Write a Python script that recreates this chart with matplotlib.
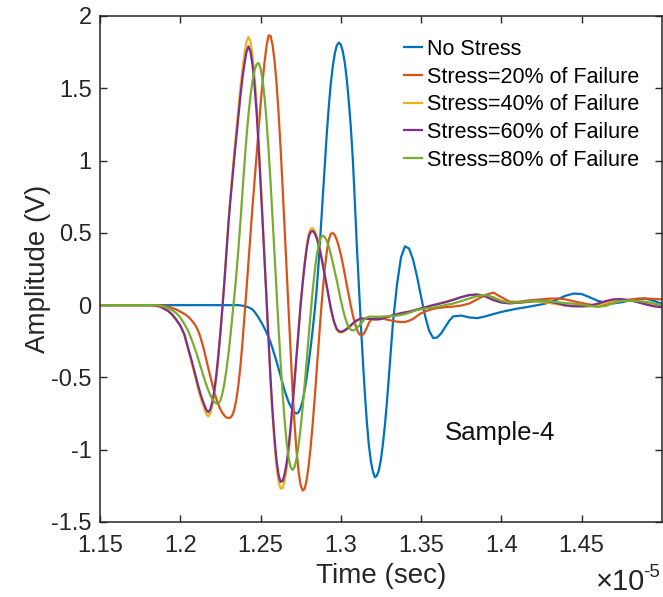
import matplotlib
matplotlib.use("Agg")
import matplotlib.pyplot as plt

plt.rcParams['font.family'] = ['Liberation Sans', 'DejaVu Sans']

# Time axis in units of 1e-5 s (denser sampling through the main wave packet)
time_e5 = [
    1.15, 1.16, 1.17,
    1.18, 1.1825, 1.185, 1.1875, 1.19, 1.1925, 1.195, 1.1975, 1.20, 1.2025,
    1.205, 1.2075,
    1.21, 1.21125, 1.2125, 1.21375, 1.215, 1.21625, 1.2175, 1.21875,
    1.22, 1.22125, 1.2225, 1.22375, 1.225, 1.22625, 1.2275, 1.22875,
    1.23, 1.23125, 1.2325, 1.23375, 1.235, 1.23625, 1.2375, 1.23875,
    1.24, 1.24125, 1.2425, 1.24375, 1.245, 1.24625, 1.2475, 1.24875,
    1.25, 1.25125, 1.2525, 1.25375, 1.255, 1.25625, 1.2575, 1.25875,
    1.26, 1.26125, 1.2625, 1.26375, 1.265, 1.26625, 1.2675, 1.26875,
    1.27, 1.27125, 1.2725, 1.27375, 1.275, 1.27625, 1.2775, 1.27875,
    1.28, 1.28125, 1.2825, 1.28375, 1.285, 1.28625, 1.2875, 1.28875,
    1.29, 1.29125, 1.2925, 1.29375, 1.295, 1.29625, 1.2975, 1.29875,
    1.30, 1.30125, 1.3025, 1.30375, 1.305, 1.30625, 1.3075, 1.30875,
    1.31, 1.31125, 1.3125, 1.31375, 1.315, 1.31625, 1.3175, 1.31875,
    1.32, 1.32125, 1.3225, 1.32375, 1.325, 1.32625, 1.3275, 1.32875,
    1.33,
    1.3325, 1.335, 1.3375, 1.34, 1.3425, 1.345, 1.3475, 1.35,
    1.3525, 1.355, 1.3575, 1.36, 1.3625, 1.365, 1.3675, 1.37,
    1.375, 1.38, 1.385, 1.39, 1.395, 1.40, 1.405, 1.41, 1.415, 1.42,
    1.425, 1.43, 1.435, 1.44, 1.445, 1.45, 1.455, 1.46, 1.465, 1.47,
    1.475, 1.48, 1.485, 1.49, 1.495, 1.50,
]

no_stress = [
    0, 0, 0,
    0, 0, 0, 0, 0, 0, 0, 0, 0, 0,
    0, 0,
    0, 0, 0, 0, 0, 0, 0, 0,
    0, 0, 0, 0, 0, 0, 0, 0,
    0, 0, 0, 0, 0, 0, -0.002, -0.004,
    -0.006, -0.01, -0.015, -0.022, -0.03, -0.046, -0.065, -0.086,
    -0.11, -0.134, -0.16, -0.19, -0.22, -0.258, -0.30, -0.345,
    -0.39, -0.44, -0.49, -0.54, -0.59, -0.632, -0.67, -0.70,
    -0.725, -0.742, -0.75, -0.74, -0.71, -0.66, -0.59, -0.50,
    -0.40, -0.29, -0.17, -0.04, 0.11, 0.30, 0.52, 0.74,
    0.96, 1.18, 1.37, 1.53, 1.65, 1.74, 1.795, 1.816,
    1.803, 1.756, 1.676, 1.561, 1.41, 1.231, 1.01, 0.72,
    0.41, 0.14, -0.13, -0.38, -0.61, -0.81, -0.97, -1.08,
    -1.15, -1.19, -1.18, -1.14, -1.07, -0.96, -0.83, -0.67,
    -0.49,
    -0.12, 0.14, 0.33, 0.407, 0.392, 0.317, 0.198, 0.059,
    -0.073, -0.176, -0.227, -0.224, -0.196, -0.153, -0.109, -0.078,
    -0.072, -0.085, -0.09, -0.078, -0.062, -0.047, -0.035, -0.024, -0.015, -0.005,
    0.005, 0.018, 0.04, 0.065, 0.08, 0.077, 0.055, 0.03, 0.016, 0.012,
    0.02, 0.034, 0.043, 0.045, 0.03, 0.01,
]

stress_20 = [
    0, 0, 0,
    0, 0, 0, 0, -0.005, -0.01, -0.02, -0.03, -0.045, -0.06,
    -0.08, -0.11,
    -0.15, -0.181, -0.22, -0.267, -0.32, -0.379, -0.44, -0.496,
    -0.55, -0.603, -0.65, -0.688, -0.72, -0.746, -0.765, -0.777,
    -0.78, -0.778, -0.76, -0.718, -0.65, -0.549, -0.42, -0.259,
    -0.08, 0.108, 0.30, 0.492, 0.68, 0.857, 1.03, 1.208,
    1.38, 1.541, 1.68, 1.793, 1.865, 1.862, 1.80, 1.691,
    1.533, 1.328, 1.087, 0.817, 0.530, 0.235, -0.059, -0.342,
    -0.603, -0.831, -1.019, -1.156, -1.245, -1.282, -1.27, -1.210,
    -1.11, -0.979, -0.821, -0.642, -0.452, -0.258, -0.07, 0.101,
    0.249, 0.367, 0.452, 0.492, 0.50, 0.485, 0.452, 0.407,
    0.351, 0.286, 0.214, 0.139, 0.065, -0.005, -0.069, -0.124,
    -0.167, -0.196, -0.209, -0.204, -0.186, -0.156, -0.124, -0.104,
    -0.092, -0.089, -0.09, -0.091, -0.092, -0.094, -0.097, -0.100,
    -0.103,
    -0.109, -0.114, -0.117, -0.116, -0.108, -0.095, -0.075, -0.056,
    -0.044, -0.034, -0.026, -0.021, -0.017, -0.014, -0.012, -0.01,
    -0.003, 0.011, 0.04, 0.07, 0.087, 0.055, 0.025, 0.022, 0.03, 0.036,
    0.04, 0.045, 0.046, 0.04, 0.027, 0.015, 0.004, 0.0, 0.008, 0.02,
    0.03, 0.038, 0.045, 0.046, 0.043, 0.04,
]

stress_40 = [
    0, 0, 0,
    0, 0, -0.005, -0.01, -0.026, -0.042, -0.068, -0.104, -0.146, -0.208,
    -0.312, -0.416,
    -0.53, -0.584, -0.634, -0.679, -0.718, -0.753, -0.77, -0.748,
    -0.695, -0.611, -0.498, -0.358, -0.196, -0.020, 0.17, 0.376,
    0.58, 0.755, 0.915, 1.069, 1.217, 1.367, 1.508, 1.633,
    1.737, 1.822, 1.855, 1.824, 1.73, 1.586, 1.395, 1.155,
    0.887, 0.608, 0.32, 0.022, -0.268, -0.530, -0.763, -0.963,
    -1.12, -1.221, -1.268, -1.266, -1.217, -1.135, -1.02, -0.875,
    -0.709, -0.535, -0.354, -0.170, 0.005, 0.158, 0.291, 0.407,
    0.491, 0.528, 0.533, 0.517, 0.48, 0.430, 0.366, 0.292,
    0.213, 0.133, 0.054, -0.020, -0.084, -0.135, -0.171, -0.187,
    -0.19, -0.188, -0.178, -0.170, -0.156, -0.145, -0.13, -0.120,
    -0.108, -0.102, -0.096, -0.095, -0.095, -0.096, -0.097, -0.098,
    -0.099, -0.1, -0.1, -0.099, -0.097, -0.094, -0.09, -0.085,
    -0.08,
    -0.072, -0.064, -0.057, -0.051, -0.046, -0.039, -0.031, -0.023,
    -0.015, -0.007, 0.001, 0.008, 0.015, 0.022, 0.03, 0.038,
    0.056, 0.068, 0.073, 0.065, 0.045, 0.025, 0.015, 0.016, 0.02, 0.024,
    0.022, 0.015, 0.006, -0.002, -0.006, -0.008, -0.008, 0.0, 0.015, 0.03,
    0.035, 0.033, 0.025, 0.015, 0.005, -0.005,
]

stress_60 = [
    0, 0, 0,
    0, 0, -0.005, -0.01, -0.025, -0.04, -0.065, -0.10, -0.14, -0.20,
    -0.30, -0.40,
    -0.51, -0.562, -0.61, -0.653, -0.69, -0.725, -0.74, -0.719,
    -0.668, -0.587, -0.479, -0.344, -0.188, -0.019, 0.163, 0.362,
    0.558, 0.726, 0.88, 1.028, 1.17, 1.314, 1.45, 1.570,
    1.67, 1.752, 1.79, 1.754, 1.663, 1.525, 1.341, 1.111,
    0.853, 0.585, 0.308, 0.021, -0.258, -0.510, -0.734, -0.926,
    -1.077, -1.174, -1.222, -1.217, -1.170, -1.091, -0.981, -0.841,
    -0.682, -0.514, -0.340, -0.163, 0.005, 0.152, 0.280, 0.391,
    0.472, 0.508, 0.513, 0.497, 0.462, 0.413, 0.352, 0.281,
    0.205, 0.128, 0.052, -0.019, -0.081, -0.130, -0.164, -0.180,
    -0.184, -0.181, -0.173, -0.163, -0.152, -0.139, -0.126, -0.115,
    -0.105, -0.098, -0.093, -0.092, -0.093, -0.094, -0.095, -0.096,
    -0.097, -0.098, -0.098, -0.097, -0.095, -0.092, -0.088, -0.083,
    -0.078,
    -0.07, -0.062, -0.055, -0.05, -0.045, -0.038, -0.03, -0.022,
    -0.015, -0.008, 0.0, 0.006, 0.013, 0.02, 0.028, 0.036,
    0.055, 0.07, 0.074, 0.06, 0.035, 0.018, 0.012, 0.016, 0.022, 0.028,
    0.03, 0.025, 0.012, -0.002, -0.008, -0.008, -0.005, 0.01, 0.028, 0.04,
    0.042, 0.035, 0.02, 0.005, -0.008, -0.015,
]

stress_80 = [
    0, 0, 0,
    0, 0, 0, -0.005, -0.01, -0.02, -0.035, -0.055, -0.085, -0.13,
    -0.18, -0.25,
    -0.33, -0.374, -0.42, -0.466, -0.51, -0.552, -0.59, -0.623,
    -0.65, -0.670, -0.68, -0.685, -0.66, -0.611, -0.54, -0.449,
    -0.34, -0.211, -0.07, 0.069, 0.22, 0.393, 0.58, 0.781,
    0.98, 1.161, 1.32, 1.449, 1.55, 1.623, 1.665, 1.675,
    1.641, 1.561, 1.439, 1.275, 1.078, 0.851, 0.605, 0.348,
    0.090, -0.159, -0.394, -0.608, -0.794, -0.946, -1.058, -1.121,
    -1.14, -1.118, -1.059, -0.968, -0.849, -0.708, -0.551, -0.385,
    -0.217, -0.053, 0.100, 0.234, 0.343, 0.419, 0.466, 0.481,
    0.472, 0.447, 0.407, 0.354, 0.293, 0.233, 0.171, 0.103,
    0.036, -0.025, -0.079, -0.122, -0.153, -0.170, -0.175, -0.171,
    -0.16, -0.145, -0.128, -0.110, -0.095, -0.085, -0.08, -0.079,
    -0.08, -0.08, -0.08, -0.08, -0.079, -0.0785, -0.078, -0.0775,
    -0.077,
    -0.075, -0.072, -0.068, -0.062, -0.053, -0.043, -0.034, -0.028,
    -0.023, -0.02, -0.017, -0.013, -0.006, 0.0, 0.006, 0.011,
    0.028, 0.046, 0.062, 0.07, 0.055, 0.03, 0.017, 0.018, 0.024, 0.029,
    0.03, 0.027, 0.02, 0.014, 0.01, 0.004, -0.006, -0.012, -0.005, 0.015,
    0.03, 0.032, 0.028, 0.023, 0.012, 0.0,
]

series_values = [no_stress, stress_20, stress_40, stress_60, stress_80]
series_labels = ["No Stress", "Stress=20% of Failure", "Stress=40% of Failure",
                 "Stress=60% of Failure", "Stress=80% of Failure"]
series_colors = ["#0072BD", "#D95319", "#EDB120", "#7E2F8E", "#77AC30"]

x_ticks = [1.15, 1.2, 1.25, 1.3, 1.35, 1.4, 1.45]
x_tick_labels = ["1.15", "1.2", "1.25", "1.3", "1.35", "1.4", "1.45"]
y_ticks = [-1.5, -1, -0.5, 0, 0.5, 1, 1.5, 2]
y_tick_labels = ["-1.5", "-1", "-0.5", "0", "0.5", "1", "1.5", "2"]

ink = "#262626"

fig = plt.figure(figsize=(6.63, 5.97), dpi=100)
ax = fig.add_axes([100 / 663, 1 - 522 / 597, 561.5 / 663, 506 / 597])

for vals, lab, col in zip(series_values, series_labels, series_colors):
    ax.plot(time_e5, vals, color=col, lw=1.6, label=lab)

ax.set_xlim(1.15, 1.4998)
ax.set_ylim(-1.5, 2)
ax.set_xticks(x_ticks, x_tick_labels)
ax.set_yticks(y_ticks, y_tick_labels)
ax.tick_params(direction="in", top=True, right=True, length=5, width=1,
               labelsize=17, colors=ink)
ax.tick_params(axis="x", pad=9)
ax.tick_params(axis="y", pad=6)
for sp in ax.spines.values():
    sp.set_color(ink)
    sp.set_linewidth(1.1)

ax.set_xlabel("Time (sec)", fontsize=20, color=ink, labelpad=5)
ax.set_ylabel("Amplitude (V)", fontsize=20, color=ink, labelpad=0)

ax.legend(loc="upper left", bbox_to_anchor=(404 / 663, 1 - 39 / 597),
          bbox_transform=fig.transFigure, frameon=False, fontsize=15.5,
          handlelength=0.85, handletextpad=0.2, labelspacing=0.31,
          borderpad=0, borderaxespad=0)

ax.text(1.399, -0.885, "Sample-4", fontsize=18.5, color="#111111",
        ha="center", va="center")

fig.text(596 / 663, 1 - 590 / 597, "\u00d710", fontsize=21, color=ink,
         ha="left", va="baseline")
fig.text(643 / 663, 1 - 577 / 597, "-5", fontsize=13.5, color=ink,
         ha="left", va="baseline")

fig.savefig("out.png", dpi=100)
